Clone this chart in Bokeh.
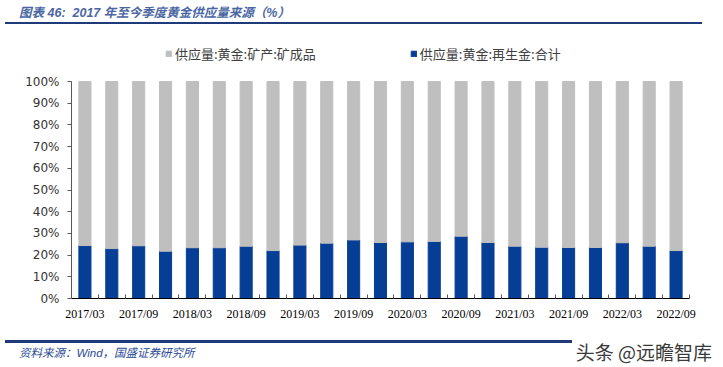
import numpy as np
from bokeh.plotting import figure
from bokeh.models import (FixedTicker, PrintfTickFormatter, Legend, LegendItem,
                          Range1d, Div, ColumnDataSource)
from bokeh.layouts import column
from bokeh.embed import file_html
from bokeh.resources import INLINE

quarters = ["2017/03", "2017/06", "2017/09", "2017/12", "2018/03", "2018/06",
            "2018/09", "2018/12", "2019/03", "2019/06", "2019/09", "2019/12",
            "2020/03", "2020/06", "2020/09", "2020/12", "2021/03", "2021/06",
            "2021/09", "2021/12", "2022/03", "2022/06", "2022/09"]
recycled = [24.4, 23.0, 24.3, 21.8, 23.4, 23.4, 24.1, 22.1, 24.6, 25.5, 27.0, 25.8,
            26.1, 26.3, 28.7, 25.8, 24.1, 23.6, 23.5, 23.5, 25.7, 24.1, 22.1]
mine = [75.6, 77.0, 75.7, 78.2, 76.6, 76.6, 75.9, 77.9, 75.4, 74.5, 73.0, 74.2,
        73.9, 73.7, 71.3, 74.2, 75.9, 76.4, 76.5, 76.5, 74.3, 75.9, 77.9]
series_names = ["供应量:黄金:矿产:矿成品", "供应量:黄金:再生金:合计"]
y_ticks = [0, 10, 20, 30, 40, 50, 60, 70, 80, 90, 100]

BLUE = "#063E96"
GRAY = "#BFBFBF"

n = len(quarters)
xs = list(range(n))
src = ColumnDataSource(dict(x=xs, recycled=recycled, mine=mine))

# frame extends above 100% to host the legend inside the plot area
p = figure(width=707, height=302, output_backend="svg", toolbar_location=None,
           x_range=Range1d(-0.5, n - 0.5), y_range=Range1d(0, 116.6),
           min_border_left=71, min_border_right=18, min_border_top=15,
           min_border_bottom=34)
p.outline_line_color = None
p.xgrid.visible = False
p.ygrid.visible = False

rs = p.vbar_stack(["recycled", "mine"], x="x", width=0.45, color=[BLUE, GRAY],
                  source=src)

# x axis
p.xaxis.ticker = FixedTicker(ticks=xs[::2], minor_ticks=[i - 0.5 for i in range(n + 1)])
p.xaxis.major_label_overrides = {i: quarters[i] for i in xs[::2]}
p.xaxis.major_tick_line_color = None
p.xaxis.major_tick_in = 0
p.xaxis.major_tick_out = 0
p.xaxis.minor_tick_in = 4
p.xaxis.minor_tick_out = 0
p.xaxis.minor_tick_line_color = "#595959"
p.xaxis.axis_line_color = "#000000"
p.xaxis.major_label_text_font = "Liberation Serif"
p.xaxis.major_label_text_font_size = "12px"
p.xaxis.major_label_text_color = "#000000"
p.xaxis.major_label_standoff = 8

# y axis
p.yaxis.ticker = FixedTicker(ticks=y_ticks)
p.yaxis.bounds = (0, 100)
p.yaxis.formatter = PrintfTickFormatter(format="%d%%")
p.yaxis.minor_tick_line_color = None
p.yaxis.major_tick_in = 0
p.yaxis.major_tick_out = 4
p.yaxis.axis_line_color = "#595959"
p.yaxis.major_tick_line_color = "#595959"
p.yaxis.major_label_text_font = "DejaVu Sans"
p.yaxis.major_label_text_font_size = "12px"
p.yaxis.major_label_text_color = "#333333"
p.yaxis.major_label_standoff = 8

legend = Legend(items=[LegendItem(label=series_names[0], renderers=[rs[1]]),
                       LegendItem(label=series_names[1], renderers=[rs[0]])],
                location=(94, 235), orientation="horizontal",
                glyph_width=7, glyph_height=7, label_standoff=3, spacing=94,
                padding=0, margin=0, border_line_color=None,
                background_fill_alpha=0,
                label_text_font="Noto Sans CJK SC", label_text_font_size="13px",
                label_text_color="#404040")
p.add_layout(legend, "center")

title = Div(width=707, height=20, text=(
    '<div style="width:697px;height:17px;border-bottom:2.5px solid #1F3A78;'
    'font-family:\'Liberation Sans\',\'Noto Sans CJK SC\';font-style:italic;font-weight:bold;'
    'font-size:12.5px;color:#4A66A3;padding-left:14px;line-height:12px;">'
    '图表 46:&nbsp; 2017 年至今季度黄金供应量来源（%）</div>'))

footer = Div(width=707, height=29, text=(
    '<div style="position:relative;width:707px;height:29px;">'
    '<div style="position:absolute;left:0;top:3px;width:652px;border-top:3px solid #1F3A78;"></div>'
    '<div style="position:absolute;left:14px;top:8px;font-family:\'Liberation Sans\',\'Noto Sans CJK SC\';'
    'font-style:italic;font-size:11.5px;color:#2A4B94;">资料来源：Wind，国盛证券研究所</div>'
    '<div style="position:absolute;right:0px;top:1px;font-family:\'Noto Sans CJK SC\';'
    'font-size:19px;color:#3a3a3a;background:#ffffff;padding-left:4px;'
    'text-shadow:0 0 2px #ffffff;">头条 @远瞻智库</div>'
    '</div>'))

layout = column(title, p, footer, spacing=0)
open("out.html", "w").write(file_html(layout, INLINE))
